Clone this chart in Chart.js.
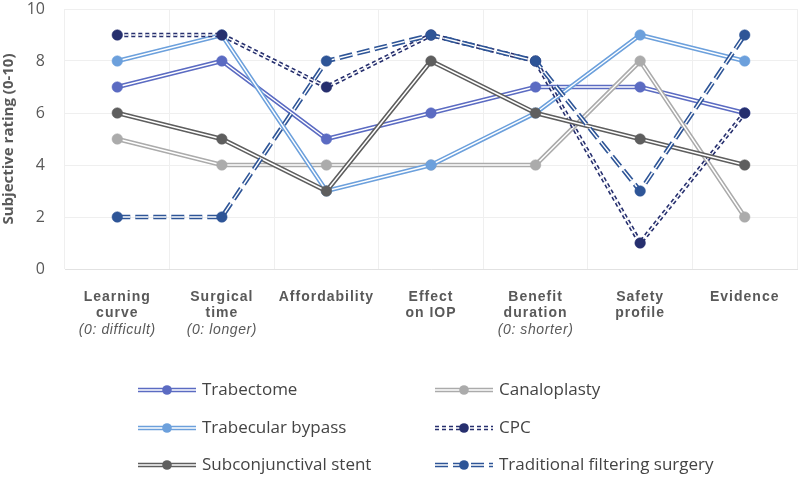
<!DOCTYPE html>
<html>
<head>
<meta charset="utf-8">
<script src="https://cdn.jsdelivr.net/npm/chart.js@4.4.1/dist/chart.umd.min.js"></script>
<style>
  html, body { margin: 0; padding: 0; background: #fff; }
  #wrap { width: 800px; height: 479px; }
</style>
</head>
<body>
<div id="wrap"><canvas id="grafico" width="800" height="479"></canvas></div>
<script>
// categories (main lines, italic note)
var categories = ['Learning curve', 'Surgical time', 'Affordability', 'Effect on IOP', 'Benefit duration', 'Safety profile', 'Evidence'];
var catLines = [
    ['Learning', 'curve'],
    ['Surgical', 'time'],
    ['Affordability'],
    ['Effect', 'on IOP'],
    ['Benefit', 'duration'],
    ['Safety', 'profile'],
    ['Evidence']
];
var catNotes = ['(0: difficult)', '(0: longer)', '', '', '(0: shorter)', '', ''];

var seriesNames = ['Trabectome', 'Canaloplasty', 'Trabecular bypass', 'CPC', 'Subconjunctival stent', 'Traditional filtering surgery'];
var trabectome = [7, 8, 5, 6, 7, 7, 6];
var canaloplasty = [5, 4, 4, 4, 4, 8, 2];
var trabecularBypass = [8, 9, 3, 4, 6, 9, 8];
var cpc = [9, 9, 7, 9, 8, 1, 6];
var subconjStent = [6, 5, 3, 8, 6, 5, 4];
var traditional = [2, 2, 8, 9, 8, 3, 9];

var yTicks = [0, 2, 4, 6, 8, 10];

var seriesData = [trabectome, canaloplasty, trabecularBypass, cpc, subconjStent, traditional];
var colores = ['#5B6BC2', '#ABABAB', '#6CA0DC', '#262F6E', '#5E5E5E', '#2E5597'];
var dashes = [[], [], [], [4, 3], [], [13, 5]];

var datasets = [];
seriesData.forEach(function (d, k) {
    var base = (5 - k) * 3;
    datasets.push({
        label: seriesNames[k], data: d, borderColor: colores[k], borderWidth: 4.6,
        borderDash: dashes[k], pointRadius: 0, tension: 0, fill: false, order: base + 2
    });
    datasets.push({
        label: '_inner', data: d, borderColor: '#ffffff', borderWidth: 1.4,
        borderDash: dashes[k], pointRadius: 0, tension: 0, fill: false, order: base + 1
    });
    datasets.push({
        label: '_marks', data: d, showLine: false, pointRadius: 5.3, pointHoverRadius: 5.3,
        pointBackgroundColor: colores[k], pointBorderColor: colores[k], pointBorderWidth: 0.5, order: base
    });
});

// x labels drawn under the plot, with italic notes
var etiquetasX = {
    id: 'etiquetasX',
    afterDraw: function (chart) {
        var ctx = chart.ctx;
        var xs = chart.scales.x;
        ctx.save();
        ctx.fillStyle = '#595959';
        ctx.textAlign = 'center';
        ctx.textBaseline = 'middle';
        categories.forEach(function (c, i) {
            var x = xs.getPixelForValue(i);
            var y = 297;
            ctx.font = 'bold 14px "Liberation Sans", Arial, sans-serif';
            ctx.letterSpacing = '1px';
            catLines[i].forEach(function (t) {
                ctx.fillText(t, x, y);
                y += 16;
            });
            if (catNotes[i]) {
                y = 330;
                ctx.font = 'italic 14px "Liberation Sans", Arial, sans-serif';
                ctx.letterSpacing = '0.6px';
                ctx.fillText(catNotes[i], x, y);
            }
        });
        ctx.restore();
    }
};

// legend in two columns, with double line symbols
var leyenda = {
    id: 'leyenda',
    afterDraw: function (chart) {
        var ctx = chart.ctx;
        var cols = [167, 464];
        var rows = [390, 428, 465];
        ctx.save();
        seriesNames.forEach(function (name, k) {
            var cx = cols[k % 2];
            var cy = rows[Math.floor(k / 2)];
            ctx.setLineDash(dashes[k]);
            ctx.strokeStyle = colores[k];
            ctx.lineWidth = 4.4;
            ctx.beginPath();
            ctx.moveTo(cx - 29, cy);
            ctx.lineTo(cx + 29, cy);
            ctx.stroke();
            ctx.strokeStyle = '#ffffff';
            ctx.lineWidth = 1.3;
            ctx.beginPath();
            ctx.moveTo(cx - 29, cy);
            ctx.lineTo(cx + 29, cy);
            ctx.stroke();
            ctx.setLineDash([]);
            ctx.fillStyle = colores[k];
            ctx.beginPath();
            ctx.arc(cx, cy, 4.8, 0, Math.PI * 2);
            ctx.fill();
            ctx.fillStyle = '#444444';
            ctx.font = '17px "Open Sans", sans-serif';
            ctx.textAlign = 'left';
            ctx.textBaseline = 'middle';
            ctx.fillText(name, cx + 35, cy);
        });
        ctx.restore();
    }
};

var ctx = document.getElementById('grafico').getContext('2d');
var chart = new Chart(ctx, {
    type: 'line',
    data: { labels: categories, datasets: datasets },
    plugins: [etiquetasX, leyenda],
    options: {
        responsive: false,
        animation: false,
        events: [],
        layout: { autoPadding: false, padding: { left: 0, right: 3, top: 0, bottom: 210 } },
        scales: {
            x: {
                offset: true,
                grid: { offset: true, color: '#efefef', drawTicks: false },
                border: { color: '#e2e2e2' },
                ticks: { display: false }
            },
            y: {
                min: 0,
                max: 10,
                afterBuildTicks: function (axis) {
                    axis.ticks = yTicks.map(function (v) { return { value: v }; });
                },
                afterFit: function (axis) {
                    axis.width = 65;
                    axis.paddingTop = 9;
                },
                grid: { color: '#efefef', drawTicks: false },
                border: { display: false },
                title: {
                    display: true,
                    text: 'Subjective rating (0-10)',
                    color: '#595959',
                    font: { family: '"Open Sans", sans-serif', size: 15, weight: 'bold' },
                    padding: { top: 0, bottom: 0 }
                },
                ticks: {
                    color: '#595959',
                    padding: 20,
                    font: { family: '"Open Sans", sans-serif', size: 16 }
                }
            }
        },
        plugins: {
            legend: { display: false },
            tooltip: { enabled: false }
        }
    }
});
</script>
</body>
</html>
